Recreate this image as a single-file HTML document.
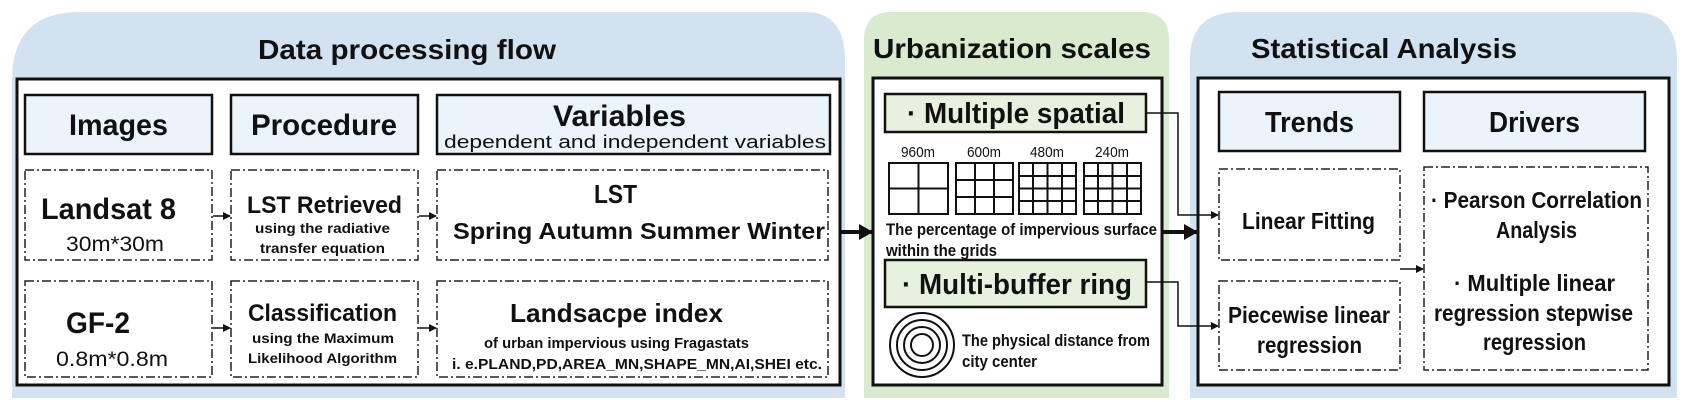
<!DOCTYPE html>
<html><head><meta charset="utf-8"><style>
html,body{margin:0;padding:0;background:#fff;}
svg{display:block;}
text{font-family:"Liberation Sans Narrow","Liberation Sans",sans-serif;font-weight:bold;fill:#111;}
.n{font-weight:normal;}
</style></head><body>
<svg width="1688" height="410" viewBox="0 0 1688 410" xmlns="http://www.w3.org/2000/svg">
<defs>
<marker id="a" markerWidth="8" markerHeight="8" refX="7" refY="4" orient="auto" markerUnits="userSpaceOnUse"><path d="M0,0 L8,4 L0,8 z" fill="#111"/></marker>
<marker id="b" markerWidth="14" markerHeight="16" refX="13" refY="8" orient="auto" markerUnits="userSpaceOnUse"><path d="M0,0 L14,8 L0,16 z" fill="#111"/></marker>
</defs>
<path d="M12,398 L12,80 Q12,12 80,12 L805,12 Q845,12 845,60 L845,398 Z" fill="#d2e2f1"/>
<path d="M864,398 L864,40 Q864,12 892,12 L1141,12 Q1169,12 1169,40 L1169,398 Z" fill="#d9eacf"/>
<path d="M1190,398 L1190,60 Q1190,12 1238,12 L1632,12 Q1677,12 1677,60 L1677,398 Z" fill="#d2e2f1"/>
<text x="258" y="59" font-size="28" textLength="298" lengthAdjust="spacingAndGlyphs">Data processing flow</text>
<text x="873" y="58" font-size="28" textLength="278" lengthAdjust="spacingAndGlyphs">Urbanization scales</text>
<text x="1251" y="58" font-size="28" textLength="266" lengthAdjust="spacingAndGlyphs">Statistical Analysis</text>
<rect x="17" y="79" width="823" height="306" fill="#fff" stroke="#111" stroke-width="3"/>
<rect x="873" y="78" width="289" height="307" fill="#fff" stroke="#111" stroke-width="3"/>
<rect x="1198" y="78" width="471" height="307" fill="#fff" stroke="#111" stroke-width="3"/>
<g fill="#ebf3fb" stroke="#111" stroke-width="2.5">
<rect x="25" y="95" width="187" height="59"/>
<rect x="231" y="95" width="187" height="59"/>
<rect x="437" y="95" width="393" height="59"/>
<rect x="1219" y="92" width="181" height="59"/>
<rect x="1424" y="92" width="221" height="59"/>
</g>
<g fill="#e6f2df" stroke="#111" stroke-width="2.5">
<rect x="885" y="94" width="261" height="38"/>
<rect x="885" y="260" width="261" height="47"/>
</g>
<text x="69" y="135" font-size="30" textLength="99" lengthAdjust="spacingAndGlyphs">Images</text>
<text x="251" y="135" font-size="30" textLength="146" lengthAdjust="spacingAndGlyphs">Procedure</text>
<text x="553" y="126" font-size="30" textLength="133" lengthAdjust="spacingAndGlyphs">Variables</text>
<text class="n" x="444" y="148" font-size="18" textLength="382" lengthAdjust="spacingAndGlyphs">dependent and independent variables</text>
<text x="1265" y="132" font-size="29" textLength="89" lengthAdjust="spacingAndGlyphs">Trends</text>
<text x="1489" y="132" font-size="29" textLength="91" lengthAdjust="spacingAndGlyphs">Drivers</text>
<text x="907" y="123" font-size="29" textLength="218" lengthAdjust="spacingAndGlyphs">· Multiple spatial</text>
<text x="902" y="294" font-size="29" textLength="230" lengthAdjust="spacingAndGlyphs">· Multi-buffer ring</text>
<g fill="none" stroke="#222" stroke-width="1.5" stroke-dasharray="9 3 2 3">
<rect x="25" y="170" width="187" height="90"/>
<rect x="231" y="170" width="187" height="90"/>
<rect x="437" y="170" width="391" height="90"/>
<rect x="25" y="281" width="187" height="96"/>
<rect x="231" y="281" width="187" height="96"/>
<rect x="437" y="281" width="391" height="96"/>
<rect x="1219" y="169" width="181" height="91"/>
<rect x="1219" y="281" width="181" height="89"/>
<rect x="1424" y="167" width="224" height="203"/>
</g>
<text x="41" y="219" font-size="30" textLength="135" lengthAdjust="spacingAndGlyphs">Landsat 8</text>
<text class="n" x="66" y="251" font-size="21" textLength="98" lengthAdjust="spacingAndGlyphs">30m*30m</text>
<text x="66" y="333" font-size="30" textLength="64" lengthAdjust="spacingAndGlyphs">GF-2</text>
<text class="n" x="56" y="366" font-size="21" textLength="112" lengthAdjust="spacingAndGlyphs">0.8m*0.8m</text>
<text x="247" y="213" font-size="24" textLength="155" lengthAdjust="spacingAndGlyphs">LST Retrieved</text>
<text x="255" y="233" font-size="14" textLength="135" lengthAdjust="spacingAndGlyphs">using the radiative</text>
<text x="260" y="253" font-size="14" textLength="125" lengthAdjust="spacingAndGlyphs">transfer equation</text>
<text x="248" y="321" font-size="24" textLength="149" lengthAdjust="spacingAndGlyphs">Classification</text>
<text x="252" y="343" font-size="14" textLength="142" lengthAdjust="spacingAndGlyphs">using the Maximum</text>
<text x="248" y="363" font-size="14" textLength="149" lengthAdjust="spacingAndGlyphs">Likelihood Algorithm</text>
<text x="594" y="203" font-size="26" textLength="43" lengthAdjust="spacingAndGlyphs">LST</text>
<text x="453" y="239" font-size="23" textLength="372" lengthAdjust="spacingAndGlyphs">Spring   Autumn   Summer Winter</text>
<text x="510" y="322" font-size="26" textLength="213" lengthAdjust="spacingAndGlyphs">Landsacpe index</text>
<text x="484" y="348" font-size="15" textLength="265" lengthAdjust="spacingAndGlyphs">of urban impervious using Fragastats</text>
<text x="452" y="369" font-size="15" textLength="370" lengthAdjust="spacingAndGlyphs">i. e.PLAND,PD,AREA_MN,SHAPE_MN,AI,SHEI etc.</text>
<g stroke="#111" stroke-width="1.5" fill="none">
<line x1="213" y1="216" x2="230" y2="216" marker-end="url(#a)"/>
<line x1="419" y1="216" x2="436" y2="216" marker-end="url(#a)"/>
<line x1="213" y1="328" x2="230" y2="328" marker-end="url(#a)"/>
<line x1="419" y1="328" x2="436" y2="328" marker-end="url(#a)"/>
<polyline points="1146,113 1178,113 1178,215 1218,215" marker-end="url(#a)"/>
<polyline points="1146,282 1178,282 1178,326 1218,326" marker-end="url(#a)"/>
<line x1="1400" y1="269" x2="1423" y2="269" marker-end="url(#a)"/>
</g>
<g stroke="#111" stroke-width="4">
<line x1="841" y1="232" x2="872" y2="232" marker-end="url(#b)"/>
<line x1="1162" y1="232" x2="1197" y2="232" marker-end="url(#b)"/>
</g>
<text class="n" x="901" y="157" font-size="15" textLength="34" lengthAdjust="spacingAndGlyphs">960m</text>
<text class="n" x="967" y="157" font-size="15" textLength="34" lengthAdjust="spacingAndGlyphs">600m</text>
<text class="n" x="1030" y="157" font-size="15" textLength="34" lengthAdjust="spacingAndGlyphs">480m</text>
<text class="n" x="1095" y="157" font-size="15" textLength="34" lengthAdjust="spacingAndGlyphs">240m</text>
<g stroke="#111" fill="none" stroke-width="2">
<rect x="889" y="163" width="59" height="51"/>
<line x1="918.5" y1="163" x2="918.5" y2="214"/><line x1="889" y1="188.5" x2="948" y2="188.5"/>
<rect x="956" y="163" width="57" height="51"/>
<line x1="975" y1="163" x2="975" y2="214"/><line x1="994" y1="163" x2="994" y2="214"/>
<line x1="956" y1="180" x2="1013" y2="180"/><line x1="956" y1="197" x2="1013" y2="197"/>
<rect x="1019" y="163" width="57" height="51"/>
<line x1="1033" y1="163" x2="1033" y2="214"/><line x1="1047.5" y1="163" x2="1047.5" y2="214"/><line x1="1062" y1="163" x2="1062" y2="214"/>
<line x1="1019" y1="176" x2="1076" y2="176"/><line x1="1019" y1="188.5" x2="1076" y2="188.5"/><line x1="1019" y1="201" x2="1076" y2="201"/>
<rect x="1084" y="163" width="57" height="51"/>
<line x1="1098" y1="163" x2="1098" y2="214"/><line x1="1112.5" y1="163" x2="1112.5" y2="214"/><line x1="1127" y1="163" x2="1127" y2="214"/>
<line x1="1084" y1="176" x2="1141" y2="176"/><line x1="1084" y1="188.5" x2="1141" y2="188.5"/><line x1="1084" y1="201" x2="1141" y2="201"/>
</g>
<text x="886" y="235" font-size="17" textLength="271" lengthAdjust="spacingAndGlyphs">The percentage of impervious surface</text>
<text x="886" y="256" font-size="17" textLength="111" lengthAdjust="spacingAndGlyphs">within the grids</text>
<g stroke="#111" fill="none" stroke-width="2">
<circle cx="922" cy="345" r="32"/><circle cx="922" cy="345" r="25"/><circle cx="922" cy="345" r="18"/><circle cx="922" cy="345" r="11"/>
</g>
<text x="962" y="346" font-size="17" textLength="188" lengthAdjust="spacingAndGlyphs">The physical distance from</text>
<text x="962" y="367" font-size="17" textLength="75" lengthAdjust="spacingAndGlyphs">city center</text>
<text x="1242" y="229" font-size="23" textLength="133" lengthAdjust="spacingAndGlyphs">Linear Fitting</text>
<text x="1228" y="323" font-size="23" textLength="162" lengthAdjust="spacingAndGlyphs">Piecewise linear</text>
<text x="1257" y="353" font-size="23" textLength="105" lengthAdjust="spacingAndGlyphs">regression</text>
<text x="1431" y="208" font-size="23" textLength="211" lengthAdjust="spacingAndGlyphs">· Pearson Correlation</text>
<text x="1496" y="238" font-size="23" textLength="81" lengthAdjust="spacingAndGlyphs">Analysis</text>
<text x="1454" y="291" font-size="23" textLength="161" lengthAdjust="spacingAndGlyphs">· Multiple linear</text>
<text x="1434" y="321" font-size="23" textLength="199" lengthAdjust="spacingAndGlyphs">regression stepwise</text>
<text x="1483" y="350" font-size="23" textLength="103" lengthAdjust="spacingAndGlyphs">regression</text>
</svg>
</body></html>
